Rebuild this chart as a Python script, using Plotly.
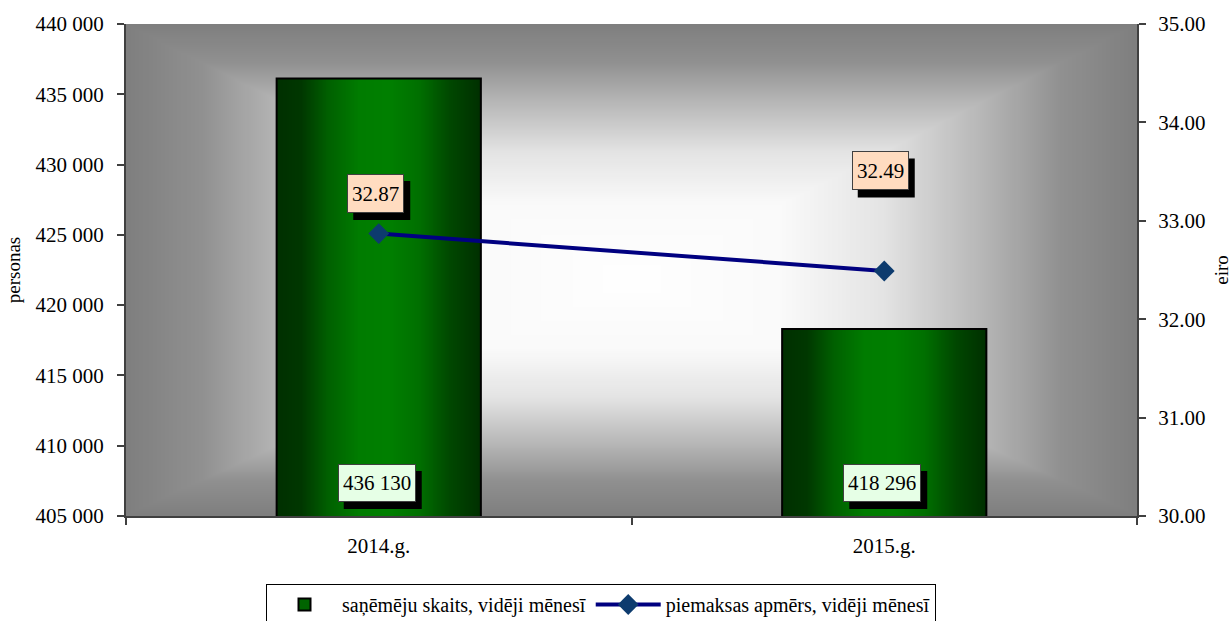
import base64
import struct
import zlib

import numpy as np
import plotly.graph_objects as go

# ---------------- data ----------------
years = ["2014.g.", "2015.g."]
recipients = [436130, 418296]          # saņēmēju skaits, vidēji mēnesī (left axis)
supplement = [32.87, 32.49]            # piemaksas apmērs, vidēji mēnesī (right axis, eiro)
left_range = [405000, 440000]
left_dtick = 5000
right_range = [30, 35]
right_dtick = 1

name_bar = "saņēmēju skaits, vidēji mēnesī"
name_line = "piemaksas apmērs, vidēji mēnesī"

# ---------------- style ----------------
FONT = "Liberation Serif, Times New Roman, serif"
BAR_WIDTH = 0.404
SHADOW = 6                       # px offset of label shadows
PAD, BORDER = 4, 1
bar_lbl_w, bar_lbl_h = 68, 28    # inner text box of bar labels (px)
bar_lbl_xshift, bar_lbl_yshift = -2, 14
supp_lbl_w, supp_lbl_h = 47, 29
supp_lbl_xshift = [-3, -4]
supp_lbl_yshift = [40, 100]


def png_data_uri(arr):
    arr = np.asarray(arr, dtype=np.uint8)
    h, w, _ = arr.shape
    raw = b"".join(b"\x00" + arr[r].tobytes() for r in range(h))

    def chunk(tag, data):
        c = struct.pack(">I", len(data)) + tag + data
        return c + struct.pack(">I", zlib.crc32(tag + data) & 0xFFFFFFFF)

    png = b"\x89PNG\r\n\x1a\n"
    png += chunk(b"IHDR", struct.pack(">IIBBBBB", w, h, 8, 2, 0, 0, 0))
    png += chunk(b"IDAT", zlib.compress(raw, 9))
    png += chunk(b"IEND", b"")
    return "data:image/png;base64," + base64.b64encode(png).decode()


# background: rectangular gradient from centre (white) to edges (grey)
H, W = 246, 506
cy = 0.52 * H
yy, xx = np.mgrid[0:H, 0:W]
dx = np.abs((xx + 0.5) / W * 2 - 1)
yc = yy + 0.5
dy = np.where(yc < cy, (cy - yc) / cy, (yc - cy) / (H - cy))
t = np.maximum(dx, dy)
v = np.interp(t, [0, 0.3, 0.5, 0.7, 0.85, 1.0],
              [255, 250, 228, 182, 145, 127])
bg = np.stack([v, v, v], axis=-1)
bg_uri = png_data_uri(bg)

# bar gradient: dark green edges, bright centre
BW = 256
u = (np.arange(BW) + 0.5) / BW
g = np.interp(u, [0, 0.12, 0.25, 0.4, 0.55, 0.7, 0.85, 1.0],
              [0x30, 0x38, 0x60, 0x7c, 0x80, 0x70, 0x48, 0x30])
bar_arr = np.zeros((1, BW, 3))
bar_arr[0, :, 1] = g
bar_uri = png_data_uri(bar_arr)

fig = go.Figure()

# legend-only swatch for bars
fig.add_trace(go.Bar(
    x=[None], y=[None], name=name_bar, showlegend=True,
    marker=dict(color="#006400", line=dict(color="black", width=2)),
))

# bars (outline; gradient fill drawn as images beneath)
fig.add_trace(go.Bar(
    x=years, y=recipients, name=name_bar, showlegend=False,
    width=BAR_WIDTH,
    marker=dict(color="rgba(0,0,0,0)", line=dict(color="black", width=2)),
    hoverinfo="x+y",
))

fig.add_trace(go.Scatter(
    x=years, y=supplement, yaxis="y2", name=name_line,
    mode="lines+markers",
    line=dict(color="#000080", width=4),
    marker=dict(symbol="diamond", size=16, color="#0d3b6e"),
))

images = [dict(source=bg_uri, xref="paper", yref="paper", x=0, y=1,
               sizex=1, sizey=1, sizing="stretch", xanchor="left",
               yanchor="top", layer="below")]
for i, val in enumerate(recipients):
    images.append(dict(source=bar_uri, xref="x", yref="y",
                       x=i - BAR_WIDTH / 2, y=val,
                       sizex=BAR_WIDTH, sizey=val - left_range[0],
                       sizing="stretch", xanchor="left", yanchor="top",
                       layer="below"))

annotations = []
shapes = []
LABEL_FONT = 21
full = PAD + BORDER

# bar value labels (inside base)
bw_out = bar_lbl_w + 2 * full
bh_out = bar_lbl_h + 2 * full
for i, val in enumerate(recipients):
    txt = f"{val:,}".replace(",", " ")
    shapes.append(dict(
        type="rect", xref="x", yref="y", xsizemode="pixel", ysizemode="pixel",
        xanchor=years[i], yanchor=left_range[0],
        x0=bar_lbl_xshift - bw_out / 2 + SHADOW,
        x1=bar_lbl_xshift + bw_out / 2 + SHADOW,
        y0=bar_lbl_yshift - SHADOW - 1, y1=bar_lbl_yshift - SHADOW - 1 + bh_out,
        fillcolor="black", line=dict(width=0), layer="above"))
    annotations.append(dict(
        x=years[i], y=left_range[0], xref="x", yref="y", yanchor="bottom",
        showarrow=False, text=txt, width=bar_lbl_w, height=bar_lbl_h,
        borderpad=PAD, borderwidth=BORDER, xshift=bar_lbl_xshift,
        yshift=bar_lbl_yshift, bgcolor="#e6ffe6", bordercolor="#404040",
        font=dict(family=FONT, size=LABEL_FONT, color="black")))

# line value labels
sw_out = supp_lbl_w + 2 * full
sh_out = supp_lbl_h + 2 * full
for i, val in enumerate(supplement):
    txt = f"{val:.2f}"
    cx = supp_lbl_xshift[i] + SHADOW
    cyy = supp_lbl_yshift[i] - SHADOW - 1
    shapes.append(dict(
        type="rect", xref="x", yref="y2", xsizemode="pixel", ysizemode="pixel",
        xanchor=years[i], yanchor=val,
        x0=cx - sw_out / 2, x1=cx + sw_out / 2,
        y0=cyy - sh_out / 2, y1=cyy + sh_out / 2,
        fillcolor="black", line=dict(width=0), layer="above"))
    annotations.append(dict(
        x=years[i], y=val, xref="x", yref="y2", showarrow=False, text=txt,
        width=supp_lbl_w, height=supp_lbl_h, borderpad=PAD,
        borderwidth=BORDER, xshift=supp_lbl_xshift[i],
        yshift=supp_lbl_yshift[i], bgcolor="#ffdcc0", bordercolor="#404040",
        font=dict(family=FONT, size=LABEL_FONT, color="black")))

axis_common = dict(showgrid=False, zeroline=False, showline=True,
                   linecolor="#404040", linewidth=2, ticks="outside",
                   ticklen=7, tickcolor="#404040", tickwidth=1.5,
                   automargin=False,
                   tickfont=dict(family=FONT, size=21, color="black"))

fig.update_layout(
    width=1232, height=621,
    margin=dict(l=126, r=95, t=24, b=105, pad=0),
    paper_bgcolor="white", plot_bgcolor="rgba(0,0,0,0)",
    barmode="overlay",
    separators=". ",
    font=dict(family=FONT, size=20, color="black"),
    images=images,
    shapes=shapes,
    annotations=annotations,
    xaxis=dict(axis_common, type="category", tickson="boundaries",
               range=[-0.5, 1.5], ticklabelstandoff=10),
    yaxis=dict(axis_common, range=left_range, dtick=left_dtick,
               tickformat=",d", ticklabelstandoff=9,
               title=dict(text="personas", font=dict(family=FONT, size=19),
                          standoff=10)),
    yaxis2=dict(axis_common, overlaying="y", side="right",
                range=right_range, dtick=right_dtick, tickformat=".2f",
                ticklabelstandoff=8,
                title=dict(text="eiro", font=dict(family=FONT, size=19),
                           standoff=14)),
    legend=dict(orientation="h", xref="container", yref="container",
                x=601 / 1232, xanchor="center", y=1 - 584 / 621,
                yanchor="top", bordercolor="black", borderwidth=1,
                bgcolor="white", font=dict(family=FONT, size=20),
                itemwidth=65, tracegroupgap=0),
    hovermode="closest",
)

fig.write_html("out.html", config={"displayModeBar": False},
               post_script="document.body.style.margin='0';")
